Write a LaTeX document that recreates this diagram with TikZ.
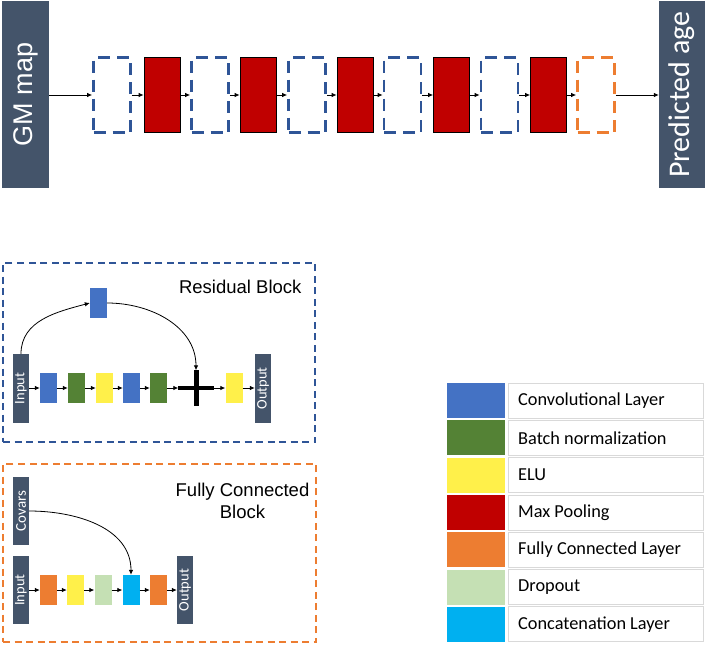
\documentclass[tikz,border=0pt]{standalone}
\usepackage{fontspec}
\setmainfont{Liberation Sans}
\newfontfamily\arialf{Liberation Sans}
\newfontfamily\calf{Carlito}
\usetikzlibrary{arrows.meta}
\definecolor{slate}{HTML}{44546A}
\definecolor{cblue}{HTML}{4472C4}
\definecolor{cgreen}{HTML}{548235}
\definecolor{cyellow}{HTML}{FFF04A}
\definecolor{cred}{HTML}{C00000}
\definecolor{corange}{HTML}{ED7D31}
\definecolor{clgreen}{HTML}{C5E0B4}
\definecolor{ccyan}{HTML}{00B0F0}
\definecolor{dblue}{HTML}{2F5597}
\definecolor{cellgray}{HTML}{D9D9D9}
\tikzset{
  x=1pt, y=-1pt,
  arr/.style={-{Latex[length=5pt,width=4.5pt]}, line width=0.8pt},
  bigbar/.style={fill=slate, inner sep=0pt},
  smallbar/.style={fill=slate, inner sep=0pt, minimum width=16pt, minimum height=69pt},
  layer/.style={inner sep=0pt, minimum width=17pt, minimum height=30pt},
  redbox/.style={fill=cred, draw=black, line width=0.8pt, inner sep=0pt, minimum width=36pt, minimum height=75pt},
  bluedash/.style={draw=dblue, line width=2.8pt, dash pattern=on 12pt off 7pt, inner sep=0pt, minimum width=37pt, minimum height=75pt},
  orangedash/.style={draw=corange, line width=2.8pt, dash pattern=on 12pt off 7pt, inner sep=0pt, minimum width=37pt, minimum height=75pt},
  swatch/.style={inner sep=0pt, minimum width=58pt, minimum height=35pt},
  cell/.style={draw=cellgray, line width=0.8pt, fill=white, inner sep=0pt, minimum width=195pt, minimum height=35pt},
  legtxt/.style={font=\calf\fontsize{18.3}{20}\selectfont, anchor=west, inner sep=0pt},
  vtxt/.style={text=white, rotate=90, font=\calf\fontsize{14.5}{16}\selectfont}
}
\begin{document}
\begin{tikzpicture}
\useasboundingbox (0,0) rectangle (708,645);
% top row
\node[bigbar, minimum width=47pt, minimum height=187pt] (gm) at (25.5,94.5) {};
\node[text=white, rotate=90, font=\arialf\fontsize{27}{30}\selectfont] at (gm.center) {GM map};
\node[bigbar, minimum width=46pt, minimum height=187pt] (pa) at (682,94.5) {};
\node[text=white, rotate=90, font=\calf\fontsize{30}{32}\selectfont] at (pa.center) {Predicted age};
\node[bluedash] (b1) at (112,95) {};
\node[redbox] (r1) at (162,95) {};
\node[bluedash] (b2) at (210,95) {};
\node[redbox] (r2) at (258,95) {};
\node[bluedash] (b3) at (307,95) {};
\node[redbox] (r3) at (355,95) {};
\node[bluedash] (b4) at (402.5,95) {};
\node[redbox] (r4) at (451.5,95) {};
\node[bluedash] (b5) at (499.5,95) {};
\node[redbox] (r5) at (548.5,95) {};
\node[orangedash] (o1) at (596,95) {};
\draw[arr] (gm.east |- b1.west) -- (b1.west);
\draw[arr] (b1.east) -- (r1.west);
\draw[arr] (r1.east) -- (b2.west);
\draw[arr] (b2.east) -- (r2.west);
\draw[arr] (r2.east) -- (b3.west);
\draw[arr] (b3.east) -- (r3.west);
\draw[arr] (r3.east) -- (b4.west);
\draw[arr] (b4.east) -- (r4.west);
\draw[arr] (r4.east) -- (b5.west);
\draw[arr] (b5.east) -- (r5.west);
\draw[arr] (r5.east) -- (o1.west);
\draw[arr] (o1.east) -- (pa.west |- o1.east);
% residual block
\node[draw=dblue, line width=2.4pt, dash pattern=on 7pt off 4.5pt, inner sep=0pt, minimum width=312pt, minimum height=179pt] (resbox) at (159,352.5) {};
\node[anchor=east, font=\arialf\fontsize{18.5}{20}\selectfont] (restitle) at (305,287) {Residual Block};
\node[smallbar] (rin) at (21,388.5) {};
\node[vtxt] at (rin.center) {Input};
\node[layer, fill=cblue] (rb1) at (48.5,388) {};
\node[layer, fill=cgreen] (rg1) at (76.5,388) {};
\node[layer, fill=cyellow] (ry1) at (104.5,388) {};
\node[layer, fill=cblue] (rb2) at (131.5,388) {};
\node[layer, fill=cgreen] (rg2) at (158.5,388) {};
\node[inner sep=0pt, minimum width=35pt, minimum height=35pt] (plus) at (196,388) {};
\draw[line width=4.5pt] (plus.west) -- (plus.east);
\draw[line width=5pt] (plus.north) -- (plus.south);
\node[layer, fill=cyellow] (ry2) at (234,388) {};
\node[smallbar] (rout) at (263,388.5) {};
\node[vtxt] at (rout.center) {Output};
\node[layer, fill=cblue] (rtop) at (98.5,303) {};
\draw[arr] (rin.east |- rb1.west) -- (rb1.west);
\draw[arr] (rb1.east) -- (rg1.west);
\draw[arr] (rg1.east) -- (ry1.west);
\draw[arr] (ry1.east) -- (rb2.west);
\draw[arr] (rb2.east) -- (rg2.west);
\draw[arr] (rg2.east) -- (plus.west);
\draw[arr] (plus.east) -- (ry2.west);
\draw[arr] (ry2.east) -- (rout.west |- ry2.east);
\draw[arr] (rin.north) to[out=90, in=195] (rtop.west);
\draw[arr] (rtop.east) to[out=0, in=90] (plus.north);
% fully connected block
\node[draw=corange, line width=2.4pt, dash pattern=on 7pt off 4.5pt, inner sep=0pt, minimum width=313pt, minimum height=178pt] (fcbox) at (159.5,553) {};
\node[align=center, font=\arialf\fontsize{18.5}{22}\selectfont] (fctitle) at (242.5,501) {Fully Connected\\Block};
\node[smallbar, minimum height=68pt] (cov) at (21,511) {};
\node[vtxt, font=\calf\fontsize{15}{16}\selectfont] at (cov.center) {Covars};
\node[smallbar, minimum height=68pt] (fin) at (21,590) {};
\node[vtxt] at (fin.center) {Input};
\node[layer, fill=corange] (fo1) at (48.5,590) {};
\node[layer, fill=cyellow] (fy) at (75.5,590) {};
\node[layer, fill=clgreen] (fd) at (103,590) {};
\node[layer, fill=ccyan] (fc) at (131,590) {};
\node[layer, fill=corange] (fo2) at (158.5,590) {};
\node[smallbar, minimum height=68pt] (fout) at (185,590) {};
\node[vtxt] at (fout.center) {Output};
\draw[arr] (fin.east |- fo1.west) -- (fo1.west);
\draw[arr] (fo1.east) -- (fy.west);
\draw[arr] (fy.east) -- (fd.west);
\draw[arr] (fd.east) -- (fc.west);
\draw[arr] (fc.east) -- (fo2.west);
\draw[arr] (fo2.east) -- (fout.west |- fo2.east);
\draw[arr] (cov.east) to[out=0, in=90] (fc.north);
% legend
\foreach \i/\c/\t in {0/cblue/Convolutional Layer, 1/cgreen/Batch normalization, 2/cyellow/ELU, 3/cred/Max Pooling, 4/corange/Fully Connected Layer, 5/clgreen/Dropout, 6/ccyan/Concatenation Layer}{
  \node[swatch, fill=\c] (sw\i) at (476, 400.5+37.3*\i) {};
  \node[cell] (ce\i) at (605.5, 400.5+37.3*\i) {};
  \node[legtxt] (lt\i) at (518, 400.5+37.3*\i) {\t};
}
\end{tikzpicture}
\end{document}
